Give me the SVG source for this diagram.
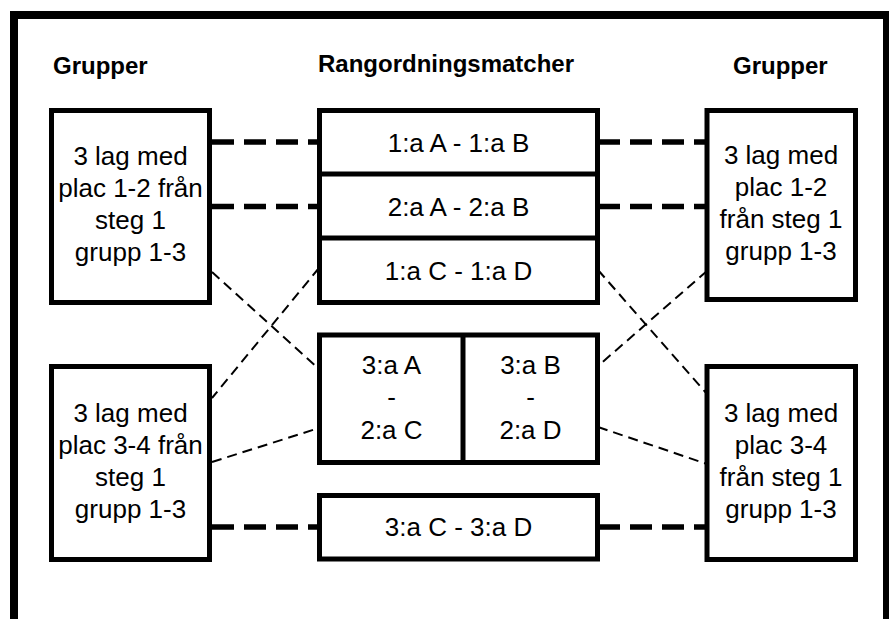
<svg xmlns="http://www.w3.org/2000/svg" width="889" height="619" viewBox="0 0 889 619">
<style>
.box{fill:#fff;stroke:#000;stroke-width:5}
.frame{fill:none;stroke:#000;stroke-width:8}
.t{font-family:"Liberation Sans",Arial,sans-serif;font-size:26px;fill:#000;text-anchor:middle}
.h{font-family:"Liberation Sans",Arial,sans-serif;font-size:24px;font-weight:bold;fill:#000}
.thick{stroke:#000;stroke-width:5.5;stroke-dasharray:22 10;fill:none}
.thin{stroke:#000;stroke-width:2;stroke-dasharray:10 6;fill:none}
</style>
<rect width="889" height="619" fill="#fff"/>
<rect class="frame" x="14" y="15" width="873" height="640"/>
<g id="headings">
<text class="h" x="53" y="74">Grupper</text>
<text class="h" x="318" y="72">Rangordningsmatcher</text>
<text class="h" x="733" y="74">Grupper</text>
</g>
<g id="connectors">
<line class="thick" x1="212" y1="142" x2="319" y2="142"/>
<line class="thick" x1="212" y1="206.5" x2="319" y2="206.5"/>
<line class="thick" x1="212" y1="527" x2="319" y2="527"/>
<line class="thick" x1="598" y1="142" x2="707" y2="142"/>
<line class="thick" x1="598" y1="206.5" x2="707" y2="206.5"/>
<line class="thick" x1="598" y1="527" x2="707" y2="527"/>
<line class="thin" x1="212" y1="272" x2="319" y2="369"/>
<line class="thin" x1="319" y1="268" x2="212" y2="398"/>
<line class="thin" x1="212" y1="462" x2="319" y2="428"/>
<line class="thin" x1="598" y1="270" x2="707" y2="394"/>
<line class="thin" x1="707" y1="271" x2="598" y2="366"/>
<line class="thin" x1="598" y1="427" x2="707" y2="464"/>
</g>
<g id="left-top">
<rect class="box" x="51.5" y="110.5" width="158" height="192"/>
<text class="t" x="130.5" y="165">3 lag med</text>
<text class="t" x="130.5" y="197">plac 1-2 från</text>
<text class="t" x="130.5" y="229">steg 1</text>
<text class="t" x="130.5" y="261">grupp 1-3</text>
</g>
<g id="left-bottom">
<rect class="box" x="51.5" y="366.5" width="158" height="193"/>
<text class="t" x="130.5" y="422">3 lag med</text>
<text class="t" x="130.5" y="454">plac 3-4 från</text>
<text class="t" x="130.5" y="486">steg 1</text>
<text class="t" x="130.5" y="518">grupp 1-3</text>
</g>
<g id="right-top">
<rect class="box" x="707" y="110.5" width="148.5" height="189"/>
<text class="t" x="781" y="164">3 lag med</text>
<text class="t" x="781" y="196">plac 1-2</text>
<text class="t" x="781" y="228">från steg 1</text>
<text class="t" x="781" y="260">grupp 1-3</text>
</g>
<g id="right-bottom">
<rect class="box" x="707" y="366.5" width="148.5" height="193"/>
<text class="t" x="781" y="422">3 lag med</text>
<text class="t" x="781" y="454">plac 3-4</text>
<text class="t" x="781" y="486">från steg 1</text>
<text class="t" x="781" y="518">grupp 1-3</text>
</g>
<g id="ranking-top">
<rect class="box" x="319.5" y="110.5" width="278" height="192"/>
<line x1="319.5" y1="174" x2="597.5" y2="174" stroke="#000" stroke-width="5"/>
<line x1="319.5" y1="238" x2="597.5" y2="238" stroke="#000" stroke-width="5"/>
<text class="t" x="458.5" y="151.5">1:a A - 1:a B</text>
<text class="t" x="458.5" y="215.5">2:a A - 2:a B</text>
<text class="t" x="458.5" y="279.5">1:a C - 1:a D</text>
</g>
<g id="ranking-middle">
<rect class="box" x="319.5" y="335" width="278" height="127.5"/>
<line x1="463" y1="335" x2="463" y2="462.5" stroke="#000" stroke-width="5"/>
<text class="t" x="391.5" y="373.5">3:a A</text>
<text class="t" x="391.5" y="406">-</text>
<text class="t" x="391.5" y="438.5">2:a C</text>
<text class="t" x="530.5" y="373.5">3:a B</text>
<text class="t" x="530.5" y="406">-</text>
<text class="t" x="530.5" y="438.5">2:a D</text>
</g>
<g id="ranking-bottom">
<rect class="box" x="319.5" y="495.5" width="278" height="63.5"/>
<text class="t" x="458.5" y="536">3:a C - 3:a D</text>
</g>
</svg>
